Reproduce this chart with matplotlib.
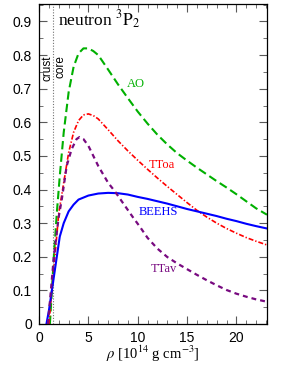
import matplotlib

matplotlib.use("Agg")
import matplotlib.pyplot as plt  # noqa: E402
from matplotlib.ticker import MultipleLocator  # noqa: E402

plt.rcParams["font.family"] = ["Liberation Sans", "DejaVu Sans"]
plt.rcParams["mathtext.fontset"] = "stix"

# critical temperature curves, T_c [10^9 K] vs rho [10^14 g/cm^3]
ao_rho = [1.1, 1.3, 1.5, 1.8, 2.1, 2.5, 3.0, 3.5, 4.0, 4.5, 5.0, 5.5, 6.0,
          7.0, 8.0, 9.0, 10.0, 11.0, 12.0, 13.0, 14.0, 15.0, 16.0, 17.0,
          18.0, 19.0, 20.0, 21.0, 22.0, 23.1]
ao_tc = [0.0, 0.1, 0.2, 0.33, 0.44, 0.57, 0.69, 0.765, 0.805, 0.82, 0.82,
         0.812, 0.8, 0.757, 0.713, 0.672, 0.632, 0.596, 0.563, 0.534, 0.508,
         0.486, 0.465, 0.445, 0.425, 0.406, 0.386, 0.365, 0.344, 0.325]

toa_rho = [1.0, 1.3, 1.6, 2.0, 2.5, 3.0, 3.5, 4.0, 4.5, 5.0, 5.5, 6.0, 7.0,
           8.0, 9.0, 10.0, 11.0, 12.0, 13.0, 14.0, 15.0, 16.0, 17.0, 18.0,
           19.0, 20.0, 21.0, 22.0, 23.1]
toa_tc = [0.0, 0.1, 0.2, 0.33, 0.42, 0.51, 0.57, 0.605, 0.622, 0.625, 0.62,
          0.61, 0.578, 0.545, 0.515, 0.487, 0.46, 0.434, 0.409, 0.385, 0.361,
          0.338, 0.318, 0.3, 0.284, 0.27, 0.257, 0.246, 0.235]

beehs_rho = [0.75, 1.0, 1.3, 1.6, 1.8, 2.1, 2.5, 3.0, 3.5, 4.0, 5.0, 6.0, 7.0,
             8.0, 9.0, 10.0, 11.0, 12.0, 13.0, 14.0, 15.0, 16.0, 17.0, 18.0,
             19.0, 20.0, 21.0, 22.0, 23.1]
beehs_tc = [0.0, 0.04, 0.1, 0.16, 0.2, 0.26, 0.3, 0.335, 0.355, 0.37, 0.382,
            0.388, 0.39, 0.389, 0.385, 0.378, 0.372, 0.365, 0.358, 0.35, 0.342,
            0.335, 0.328, 0.321, 0.313, 0.306, 0.298, 0.291, 0.284]

tav_rho = [0.9, 1.2, 1.5, 2.0, 2.3, 2.8, 3.3, 3.8, 4.1, 4.5, 5.0, 5.5, 6.0,
           6.5, 7.0, 7.7, 8.5, 9.5, 10.2, 11.0, 12.0, 13.0, 14.0, 15.0, 16.0,
           17.0, 18.0, 19.0, 20.0, 21.0, 22.0, 23.1]
tav_tc = [0.0, 0.1, 0.2, 0.32, 0.37, 0.47, 0.52, 0.55, 0.556, 0.55, 0.53,
          0.5, 0.47, 0.445, 0.42, 0.394, 0.36, 0.318, 0.29, 0.256, 0.224,
          0.199, 0.18, 0.163, 0.146, 0.13, 0.115, 0.101, 0.09, 0.081, 0.073,
          0.066]

crust_core = 1.4

fig = plt.figure(figsize=(2.81, 3.66), dpi=100)
ax = fig.add_axes([0.139, 0.115, 0.811, 0.874])

ax.axvline(crust_core, color="0.45", lw=0.8, ls=(0, (1, 1.5)))
ax.plot(ao_rho, ao_tc, color="#00b000", lw=1.5, dashes=(4, 2))
ax.plot(toa_rho, toa_tc, color="#ff0000", lw=1.2, dashes=(3, 1.2, 0.8, 1.2))
ax.plot(beehs_rho, beehs_tc, color="#0000ff", lw=1.5)
ax.plot(tav_rho, tav_tc, color="#780a80", lw=1.6, dashes=(2.2, 1.8))

serif = ["Liberation Serif", "DejaVu Serif"]
ax.text(9.8, 0.714, "AO", color="#00b000", fontsize=9, family=serif,
        ha="center", va="center")
ax.text(12.4, 0.473, "TToa", color="#ff0000", fontsize=9, family=serif,
        ha="center", va="center")
ax.text(12.1, 0.332, "BEEHS", color="#0000ff", fontsize=9,
        family=serif, ha="center", va="center")
ax.text(12.7, 0.164, "TTav", color="#780a80", fontsize=9, family=serif,
        ha="center", va="center")

ax.text(1.95, 0.905, r"neutron $^{3}\mathrm{P}_{2}$", fontsize=12.5,
        family=serif, va="center")
ax.text(0.85, 0.80, "crust", rotation=90, fontsize=8.5, ha="center", va="top")
ax.text(2.2, 0.80, "core", rotation=90, fontsize=8.5, ha="center", va="top")

ax.set_xlim(0, 23.1)
ax.set_ylim(0, 0.952)
ax.xaxis.set_major_locator(MultipleLocator(5))
ax.xaxis.set_minor_locator(MultipleLocator(1))
ax.yaxis.set_major_locator(MultipleLocator(0.1))
ax.yaxis.set_minor_locator(MultipleLocator(0.05))
ax.set_yticks([0, 0.1, 0.2, 0.3, 0.4, 0.5, 0.6, 0.7, 0.8, 0.9])
ax.set_yticklabels(["0", "0.1", "0.2", "0.3", "0.4", "0.5", "0.6", "0.7",
                    "0.8", "0.9"])
ax.tick_params(which="both", direction="in", top=True, right=True,
               labelsize=10, color="0.35")
ax.tick_params(which="major", length=6, width=0.8, pad=5)
ax.tick_params(which="minor", length=3, width=0.6)
for sp in ax.spines.values():
    sp.set_linewidth(0.9)

ax.set_xlabel(r"$\rho$ [10$^{14}$ g cm$^{-3}$]", fontsize=10.5, family=serif,
              labelpad=-1)

fig.savefig("out.png", dpi=100)
